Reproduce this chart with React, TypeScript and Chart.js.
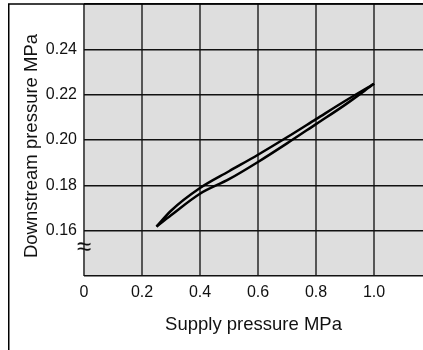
import React, { useEffect, useRef } from "react";
import { Chart, registerables } from "chart.js";

Chart.register(...registerables);

// Supply pressure (MPa) sample points along the hysteresis loop
const supplyPressure = [0.25, 0.3, 0.4, 0.5, 0.6, 0.7, 0.8, 0.9, 1.0];
// Upper branch of downstream pressure (MPa)
const downstreamUpper = [0.1618, 0.1688, 0.1788, 0.1862, 0.1935, 0.2012, 0.2092, 0.2172, 0.2248];
// Lower branch of downstream pressure (MPa)
const downstreamLower = [0.1618, 0.1668, 0.1763, 0.1827, 0.1903, 0.1985, 0.207, 0.2155, 0.2248];

const xTickValues = [0, 0.2, 0.4, 0.6, 0.8, 1.0];
const xTickLabels = ["0", "0.2", "0.4", "0.6", "0.8", "1.0"];
const yTickValues = [0.14, 0.16, 0.18, 0.2, 0.22, 0.24, 0.26];
const yTickLabels = ["", "0.16", "0.18", "0.20", "0.22", "0.24", ""];

const xTitle = "Supply pressure MPa";
const yTitle = "Downstream pressure MPa";
const breakMark = "≈";

const FONT = "'Liberation Sans', Arial, Helvetica, sans-serif";

export default function App() {
  const ref = useRef<HTMLCanvasElement | null>(null);

  useEffect(() => {
    if (!ref.current) return;
    const decor = {
      id: "decor",
      beforeDraw(chart: any) {
        const { ctx, chartArea } = chart;
        ctx.save();
        ctx.fillStyle = "#ffffff";
        ctx.fillRect(0, 0, chart.width, chart.height);
        ctx.fillStyle = "#dedede";
        ctx.fillRect(chartArea.left, chartArea.top, chartArea.right - chartArea.left, chartArea.bottom - chartArea.top);
        ctx.restore();
      },
      afterDraw(chart: any) {
        const { ctx, chartArea } = chart;
        ctx.save();
        // outer frame
        ctx.strokeStyle = "#000";
        ctx.lineWidth = 1.5;
        ctx.beginPath();
        ctx.moveTo(8.75, chart.height);
        ctx.lineTo(8.75, 4);
        ctx.lineTo(chart.width, 4);
        ctx.stroke();
        // y title
        ctx.fillStyle = "#111";
        ctx.font = `18.5px ${FONT}`;
        ctx.textAlign = "center";
        ctx.textBaseline = "middle";
        ctx.translate(32, 146);
        ctx.rotate(-Math.PI / 2);
        ctx.fillText(yTitle, 0, 0);
        ctx.restore();
        // break mark
        ctx.save();
        ctx.fillStyle = "#111";
        ctx.font = `26px ${FONT}`;
        ctx.textAlign = "center";
        ctx.textBaseline = "middle";
        ctx.fillText(breakMark, chartArea.left, 248);
        ctx.restore();
      },
    };

    const chart = new Chart(ref.current, {
      type: "scatter",
      data: {
        datasets: [
          {
            data: supplyPressure.map((x, i) => ({ x, y: downstreamUpper[i] })),
            showLine: true,
            borderColor: "#000",
            borderWidth: 2.5,
            pointRadius: 0,
            cubicInterpolationMode: "monotone",
          },
          {
            data: supplyPressure.map((x, i) => ({ x, y: downstreamLower[i] })),
            showLine: true,
            borderColor: "#000",
            borderWidth: 2.5,
            pointRadius: 0,
            cubicInterpolationMode: "monotone",
          },
        ],
      },
      options: {
        responsive: false,
        animation: false,
        devicePixelRatio: 1,
        layout: { padding: { left: 0, top: 4, right: 0, bottom: 0 } },
        plugins: { legend: { display: false }, tooltip: { enabled: false } },
        scales: {
          x: {
            type: "linear",
            min: 0,
            max: 339 / 290,
            afterBuildTicks: (s: any) => {
              s.ticks = xTickValues.map((v) => ({ value: v }));
            },
            afterFit: (s: any) => {
              s.height = 74;
              s.paddingLeft = 0;
              s.paddingRight = 0;
            },
            ticks: {
              callback: (_v: any, i: number) => xTickLabels[i],
              color: "#111",
              font: { family: FONT, size: 16 },
              padding: 7,
              maxRotation: 0,
            },
            grid: { color: "#555", lineWidth: 2, drawTicks: false },
            border: { display: false },
            title: {
              display: true,
              text: xTitle,
              color: "#111",
              font: { family: FONT, size: 18.5 },
              padding: { top: 0, bottom: 14 },
            },
          },
          y: {
            type: "linear",
            min: 0.14,
            max: 0.26,
            afterBuildTicks: (s: any) => {
              s.ticks = yTickValues.map((v) => ({ value: v }));
            },
            afterFit: (s: any) => {
              s.width = 84;
              s.paddingTop = 0;
              s.paddingBottom = 0;
            },
            ticks: {
              callback: (_v: any, i: number) => yTickLabels[i],
              color: "#111",
              font: { family: FONT, size: 16 },
              padding: 7,
            },
            grid: { color: "#111", lineWidth: 1.5, drawTicks: false },
            border: { display: false },
          },
        },
      },
      plugins: [decor],
    } as any);
    return () => chart.destroy();
  }, []);

  return (
    <div style={{ position: "fixed", left: 0, top: 0, width: 423, height: 350, background: "#fff" }}>
      <canvas ref={ref} width={423} height={350} style={{ display: "block" }} />
    </div>
  );
}
